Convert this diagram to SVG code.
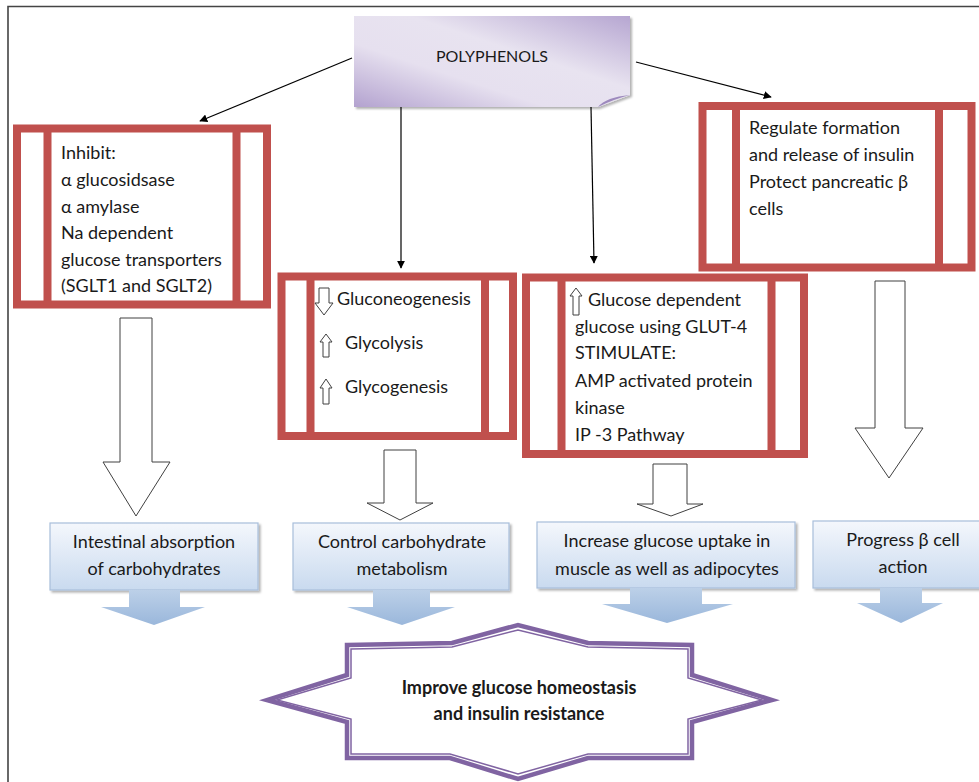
<svg xmlns="http://www.w3.org/2000/svg" width="979" height="782" viewBox="0 0 979 782">
<defs>
<linearGradient id="purp" x1="0" y1="1" x2="1" y2="0">
<stop offset="0" stop-color="#b3a2cf"/>
<stop offset="0.35" stop-color="#e6e0ef"/>
<stop offset="0.6" stop-color="#e8e3f0"/>
<stop offset="1" stop-color="#b6a6d1"/>
</linearGradient>
<linearGradient id="blueBox" x1="0" y1="0" x2="0" y2="1">
<stop offset="0" stop-color="#f4f7fc"/>
<stop offset="1" stop-color="#c9daef"/>
</linearGradient>
<linearGradient id="blueArr" x1="0" y1="0" x2="0" y2="1">
<stop offset="0" stop-color="#bcd0e8"/>
<stop offset="1" stop-color="#9ab7db"/>
</linearGradient>
<marker id="ah" viewBox="0 0 10 10" refX="9" refY="5" markerWidth="8" markerHeight="8" orient="auto" markerUnits="userSpaceOnUse">
<path d="M0,0 L10,5 L0,10 Z" fill="#000"/>
</marker>
<filter id="sh" x="-10%" y="-10%" width="130%" height="130%">
<feDropShadow dx="2" dy="2" stdDeviation="1.2" flood-color="#000" flood-opacity="0.3"/>
</filter>
</defs>
<style>
.t{font-family:Lato,"Liberation Sans",sans-serif;font-size:18px;fill:#1a1a1a}
.c{text-anchor:middle}
.red{fill:none;stroke:#c0504d;stroke-width:8}
.hol{fill:#fff;stroke:#404040;stroke-width:1}
.bb{fill:url(#blueBox);stroke:#a8bedb;stroke-width:1.2}
.ba{fill:url(#blueArr)}
.con{fill:none;stroke:#000;stroke-width:1.2;marker-end:url(#ah)}
.star{fill:#fff;stroke:#8064a2}
</style>
<rect width="979" height="782" fill="#fff"/>
<path d="M8,782 V6.5 H979" fill="none" stroke="#444" stroke-width="1.6"/>

<g id="connectors">
<line class="con" x1="352" y1="58" x2="200" y2="121"/>
<line class="con" x1="401" y1="107" x2="401" y2="268"/>
<line class="con" x1="591" y1="107" x2="594" y2="263"/>
<line class="con" x1="636" y1="62" x2="771" y2="97"/>
</g>

<g id="polyphenols">
<path d="M354,16 H630 V95 L598,107 H354 Z" fill="url(#purp)" filter="url(#sh)"/>
<path d="M598,107 Q606,97 630,95 Q614,99 598,107 Z" fill="#9d89bd"/>
<text class="t c" x="492" y="62" style="font-size:16px">POLYPHENOLS</text>
</g>

<g id="box-inhibit">
<rect class="red" x="17" y="128.5" width="250" height="176"/>
<line class="red" x1="47.5" y1="128.5" x2="47.5" y2="304.5"/>
<line class="red" x1="236.5" y1="128.5" x2="236.5" y2="304.5"/>
<text class="t" x="61" y="159">Inhibit:</text>
<text class="t" x="61" y="186">α glucosidsase</text>
<text class="t" x="61" y="213">α amylase</text>
<text class="t" x="61" y="239">Na dependent</text>
<text class="t" x="61" y="266">glucose transporters</text>
<text class="t" x="61" y="292">(SGLT1 and SGLT2)</text>
</g>

<g id="box-gluco">
<rect class="red" x="281.5" y="276.5" width="231.5" height="159.5"/>
<line class="red" x1="310.5" y1="276.5" x2="310.5" y2="436"/>
<line class="red" x1="485" y1="276.5" x2="485" y2="436"/>
<path class="hol" d="M319,288 H329 V303 H333 L324,315 L315,303 H319 Z"/>
<text class="t" x="337" y="305">Gluconeogenesis</text>
<path class="hol" d="M326,334 L332,342 H329 V357 H323 V342 H320 Z"/>
<text class="t" x="345" y="349">Glycolysis</text>
<path class="hol" d="M326,379 L332,388 H329 V404 H323 V388 H320 Z"/>
<text class="t" x="345" y="393">Glycogenesis</text>
</g>

<g id="box-glut">
<rect class="red" x="526" y="277.5" width="278" height="176.5"/>
<line class="red" x1="561.5" y1="277.5" x2="561.5" y2="454"/>
<line class="red" x1="771.5" y1="277.5" x2="771.5" y2="454"/>
<path class="hol" d="M576,288 L582,296 H579 V315 H573 V296 H570 Z"/>
<text class="t" x="588" y="306">Glucose dependent</text>
<text class="t" x="575" y="333">glucose using GLUT-4</text>
<text class="t" x="575" y="359">STIMULATE:</text>
<text class="t" x="575" y="387">AMP activated protein</text>
<text class="t" x="575" y="414">kinase</text>
<text class="t" x="575" y="441">IP -3 Pathway</text>
</g>

<g id="box-insulin">
<rect class="red" x="702.5" y="106" width="269" height="161.5"/>
<line class="red" x1="736" y1="106" x2="736" y2="267.5"/>
<line class="red" x1="939" y1="106" x2="939" y2="267.5"/>
<text class="t" x="749" y="134">Regulate formation</text>
<text class="t" x="749" y="161">and release of insulin</text>
<text class="t" x="749" y="188">Protect pancreatic β</text>
<text class="t" x="749" y="215">cells</text>
</g>

<g id="hollow-arrows">
<path class="hol" d="M120,318 H152 V462 H170 L136,516 L103,462 H120 Z"/>
<path class="hol" d="M384,450 H416 V503 H433 L400,520 L367,503 H384 Z"/>
<path class="hol" d="M653,464 H687 V504 H703 L671,516 L637,504 H653 Z"/>
<path class="hol" d="M875,281 H905 V428 H923 L889,478 L855,428 H875 Z"/>
</g>

<g id="effect-intestinal">
<rect class="bb" x="50" y="523" width="208" height="67" filter="url(#sh)"/>
<text class="t c" x="154" y="548">Intestinal absorption</text>
<text class="t c" x="154" y="575">of carbohydrates</text>
<path class="ba" d="M129,590 H180 V607 H205 L154,625 L101,607 H129 Z"/>
</g>

<g id="effect-control">
<rect class="bb" x="293" y="523" width="216" height="67" filter="url(#sh)"/>
<text class="t c" x="402" y="548">Control carbohydrate</text>
<text class="t c" x="402" y="575">metabolism</text>
<path class="ba" d="M373,590 H430 V607 H455 L402,625 L347,607 H373 Z"/>
</g>

<g id="effect-uptake">
<rect class="bb" x="537" y="522" width="258" height="66" filter="url(#sh)"/>
<text class="t c" x="667" y="547">Increase glucose uptake in</text>
<text class="t c" x="667" y="575">muscle as well as adipocytes</text>
<path class="ba" d="M630,588 H702 V604 H733 L667,623 L602,604 H630 Z"/>
</g>

<g id="effect-beta">
<rect class="bb" x="813" y="521" width="180" height="67" filter="url(#sh)"/>
<text class="t c" x="903" y="546">Progress β cell</text>
<text class="t c" x="903" y="573">action</text>
<path class="ba" d="M880,588 H922 V603 H943 L901,623 L857,603 H880 Z"/>
</g>

<g id="outcome">
<polygon class="star" stroke-width="4.5" points="347,645 452,643 518,625 588,643 692,645 692,675 772,700 692,722 692,758 588,758 518,779 450,758 347,758 347,722 267,700 347,675"/>
<polygon fill="none" stroke="#8064a2" stroke-width="1.5" points="351,649 452,647 518,630 588,647 688,649 688,678 762,700 688,719 688,754 588,754 518,774 450,754 351,754 351,719 277,700 351,678"/>
<text class="t c" x="519" y="694" style="font-weight:bold">Improve glucose homeostasis</text>
<text class="t c" x="519" y="720" style="font-weight:bold">and insulin resistance</text>
</g>
</svg>
